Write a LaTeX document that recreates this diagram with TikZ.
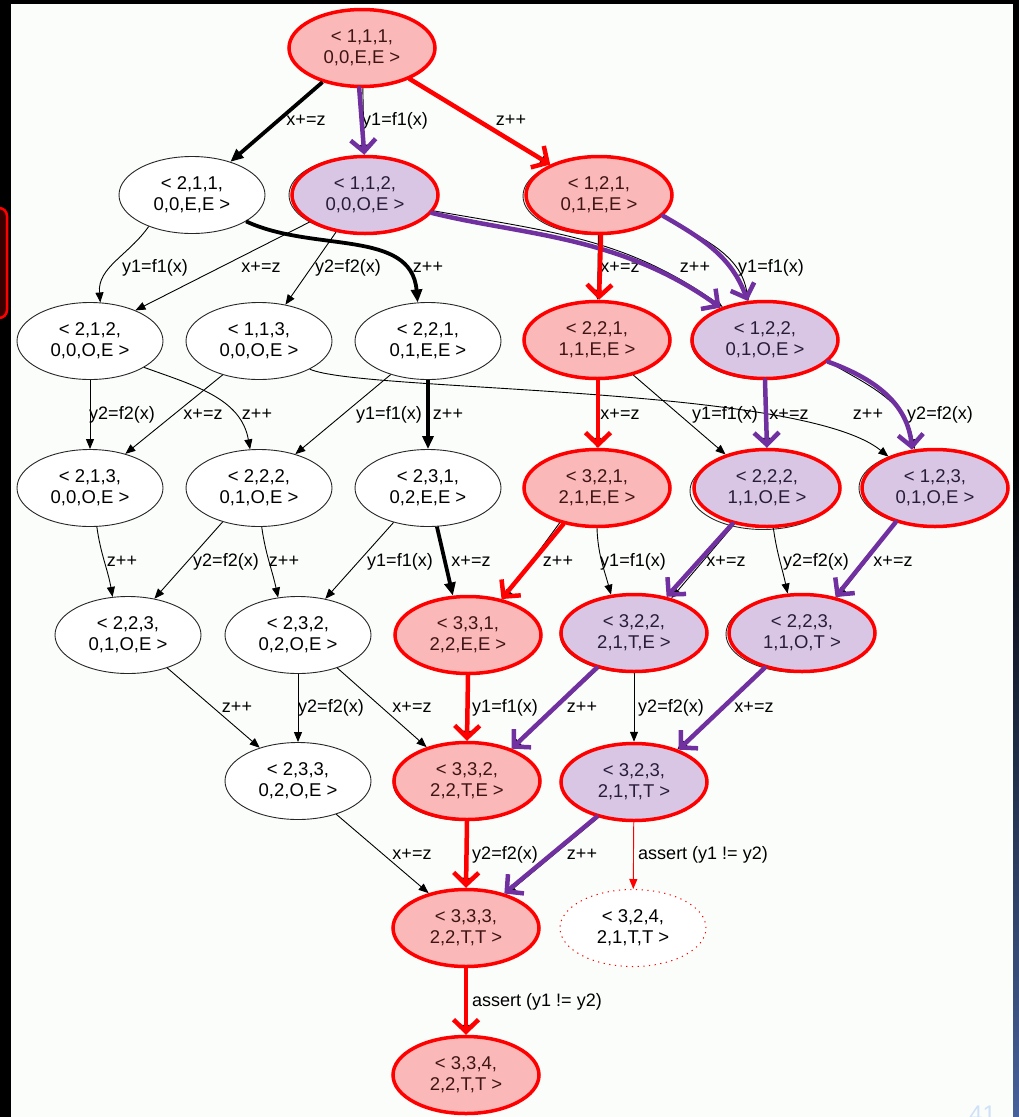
\documentclass[tikz,border=0pt]{standalone}
\usepackage{fontspec}
\setmainfont{Liberation Sans}
\usetikzlibrary{shapes.geometric,arrows.meta}
\definecolor{pinkf}{HTML}{FBB8B8}
\definecolor{purpf}{HTML}{D8C6E4}
\definecolor{purp}{HTML}{7030A0}
\definecolor{bg}{HTML}{FBFDFB}
\definecolor{pinktxt}{HTML}{3F1414}
\definecolor{purptxt}{HTML}{281C3A}
\definecolor{slideblue}{HTML}{46629A}
\definecolor{darkred}{HTML}{3A0000}
\definecolor{pagenum}{HTML}{CFE1F7}
\begin{document}
\begin{tikzpicture}[x=1pt,y=1pt,
  stnode/.style={ellipse,draw=black!85,line width=0.9pt,fill=white,minimum width=146pt,minimum height=77pt,inner sep=0pt,align=center,font=\fontsize{18.5}{21}\selectfont},
  hlr/.style={stnode,draw=red,line width=3.5pt,fill=pinkf,text=pinktxt},
  hlp/.style={stnode,draw=red,line width=3.5pt,fill=purpf,text=purptxt},
  shad/.style={preaction={draw=black!85,line width=0.9pt,fill=none,transform canvas={shift={(#1)}}}},
  dotnode/.style={stnode,draw=red,line width=1pt,dash pattern=on 1.2pt off 4.5pt},
  lbl/.style={font=\fontsize{18}{20}\selectfont,inner sep=0pt,text height=12.5pt,text depth=3.5pt},
  edg/.style={line width=0.9pt,-{Triangle[length=10pt,width=8pt]}},
  edgb/.style={line width=3.8pt,-{Triangle[length=13pt,width=11pt]}},
  ov/.style={line width=4.5pt,line cap=round,line join=round,-{Straight Barb[length=12pt,width=25pt]}},
  ovr/.style={ov,draw=red},
  ovp/.style={ov,draw=purp},
]
\useasboundingbox (0,0) rectangle (1019,-1117);
% slide background
\fill[black] (0,0) rectangle (1019,-1117);
\fill[bg] (11,-4) rectangle (1013,-1117);
\shade[top color=black,bottom color=slideblue] (1013,-450) rectangle (1019,-1117);
\draw[red,line width=2.5pt,fill=darkred,rounded corners=8pt] (-20,-208) rectangle (7,-318);
\begin{scope}
\clip (0,0) rectangle (1019,-1117);
\node[text=pagenum,font=\fontsize{24}{24}\selectfont,anchor=north west,inner sep=0pt] (pg) at (969,-1106) {41};
\end{scope}

% nodes
\node[hlr] (A111) at (362,-48) {< 1,1,1,\\0,0,E,E >};
\node[stnode] (N211) at (192,-195) {< 2,1,1,\\0,0,E,E >};
\node[hlp,shad={-3,0}] (N112) at (365,-195) {< 1,1,2,\\0,0,O,E >};
\node[hlr,shad={-3,-1}] (N121) at (599,-195) {< 1,2,1,\\0,1,E,E >};
\node[stnode] (N212) at (90,-341) {< 2,1,2,\\0,0,O,E >};
\node[stnode] (N113) at (259,-341) {< 1,1,3,\\0,0,O,E >};
\node[stnode] (N221a) at (428,-341) {< 2,2,1,\\0,1,E,E >};
\node[hlr] (N221b) at (597,-340) {< 2,2,1,\\1,1,E,E >};
\node[hlp,shad={-1,-1}] (N122) at (765,-340) {< 1,2,2,\\0,1,O,E >};
\node[stnode] (N213) at (90,-488) {< 2,1,3,\\0,0,O,E >};
\node[stnode] (N222a) at (259,-488) {< 2,2,2,\\0,1,O,E >};
\node[stnode] (N231) at (428,-488) {< 2,3,1,\\0,2,E,E >};
\node[hlr] (N321) at (597,-488) {< 3,2,1,\\2,1,E,E >};
\node[hlp,shad={-4,-3}] (N222b) at (767,-488) {< 2,2,2,\\1,1,O,E >};
\node[hlp,shad={-3,0}] (N123) at (935,-488) {< 1,2,3,\\0,1,O,E >};
\node[stnode] (N223a) at (128,-635) {< 2,2,3,\\0,1,O,E >};
\node[stnode] (N232) at (298,-635) {< 2,3,2,\\0,2,O,E >};
\node[hlr] (N331) at (468,-635) {< 3,3,1,\\2,2,E,E >};
\node[hlp,shad={-1,-1}] (N322) at (634,-633) {< 3,2,2,\\2,1,T,E >};
\node[hlp,shad={-3,-1}] (N223b) at (802,-633) {< 2,2,3,\\1,1,O,T >};
\node[stnode] (N233) at (298,-781) {< 2,3,3,\\0,2,O,E >};
\node[hlr,shad={-1,-1}] (N332) at (467,-781) {< 3,3,2,\\2,2,T,E >};
\node[hlp] (N323) at (634,-782) {< 3,2,3,\\2,1,T,T >};
\node[hlr] (N333) at (466,-928) {< 3,3,3,\\2,2,T,T >};
\node[dotnode] (N324) at (633,-928) {< 3,2,4,\\2,1,T,T >};
\node[hlr] (N334) at (466,-1075) {< 3,3,4,\\2,2,T,T >};

% black edges
\draw[edgb] (A111) -- (N211);
\draw[edg] (A111) -- (N112);
\draw[edg] (A111) -- (N121);
\draw[edg] (N211.-144) to[out=-125,in=95] (N212.75);
\draw[edgb] (N211.-26) to[out=-25,in=95] (N221a.105);
\draw[edg] (N112.206) -- (N212.34);
\draw[edg] (N112.232) -- (N113.54);
\draw[edg] (N112.-13) to[out=-10,in=145] (N122.142);
\draw[edg] (N121) -- (N221b);
\draw[edg] (N121.-18) to[out=-30,in=100] (N122.113);
\draw[edg] (N212) -- (N213);
\draw[edg] (N212.-26) to[out=-20,in=100] (N222a.103);
\draw[edg] (N113.223) -- (N213.44);
\draw[edg] (N113.-29) .. controls (360,-392) and (800,-385) .. (N123.146);
\draw[edg] (N221a.222) -- (N222a.43);
\draw[edgb] (N221a) -- (N231);
\draw[edg] (N221b) -- (N321);
\draw[edg] (N221b.-44) -- (N222b.141);
\draw[edg] (N122) -- (N222b);
\draw[edg] (N122.-19) to[out=-30,in=100] (N123.118);
\draw[edg] (N213.-80) to[out=-82,in=100] (N223a.112);
\draw[edg] (N222a.223) -- (N223a.54);
\draw[edg] (N222a.-86) to[out=-82,in=102] (N232.118);
\draw[edg] (N231.225) -- (N232.53);
\draw[edgb] (N231.-77) -- (N331.111);
\draw[edg] (N321.223) -- (N331.45);
\draw[edg] (N321.-90) to[out=-88,in=105] (N322.121);
\draw[edg] (N222b.228) -- (N322.43);
\draw[edg] (N222b.-81) to[out=-82,in=102] (N223b.110);
\draw[edg] (N123.222) -- (N223b.45);
\draw[edg] (N223a.-40) -- (N233.139);
\draw[edg] (N232) -- (N233);
\draw[edg] (N232.-40) -- (N332.140);
\draw[edg] (N331) -- (N332);
\draw[edg] (N322.225) -- (N332.36);
\draw[edg] (N322) -- (N323);
\draw[edg] (N223b.223) -- (N323.37);
\draw[edg] (N233.-41) -- (N333.137);
\draw[edg] (N332) -- (N333);
\draw[edg] (N323.225) -- (N333.40);
\draw[edg,red] (N323) -- (N324);
\draw[edg] (N333) -- (N334);

% labels
\node[lbl] (L01) at (306,-121) {x+=z};
\node[lbl] (L02) at (395,-121) {y1=f1(x)};
\node[lbl] (L03) at (511,-121) {z++};
\node[lbl] (L04) at (155,-268) {y1=f1(x)};
\node[lbl] (L05) at (261,-268) {x+=z};
\node[lbl] (L06) at (348,-268) {y2=f2(x)};
\node[lbl] (L07) at (428,-268) {z++};
\node[lbl] (L08) at (620,-268) {x+=z};
\node[lbl] (L09) at (695,-268) {z++};
\node[lbl] (L10) at (771,-268) {y1=f1(x)};
\node[lbl] (L11) at (122,-415) {y2=f2(x)};
\node[lbl] (L12) at (203,-415) {x+=z};
\node[lbl] (L13) at (257,-415) {z++};
\node[lbl] (L14) at (389,-415) {y1=f1(x)};
\node[lbl] (L15) at (448,-415) {z++};
\node[lbl] (L16) at (620,-415) {x+=z};
\node[lbl] (L17) at (725,-415) {y1=f1(x)};
\node[lbl] (L18) at (789,-415) {x+=z};
\node[lbl] (L19) at (868,-415) {z++};
\node[lbl] (L20) at (940,-415) {y2=f2(x)};
\node[lbl] (L21) at (122,-562) {z++};
\node[lbl] (L22) at (226,-562) {y2=f2(x)};
\node[lbl] (L23) at (284,-562) {z++};
\node[lbl] (L24) at (400,-562) {y1=f1(x)};
\node[lbl] (L25) at (471,-562) {x+=z};
\node[lbl] (L26) at (558,-562) {z++};
\node[lbl] (L27) at (633,-562) {y1=f1(x)};
\node[lbl] (L28) at (726,-562) {x+=z};
\node[lbl] (L29) at (816,-562) {y2=f2(x)};
\node[lbl] (L30) at (893,-562) {x+=z};
\node[lbl] (L31) at (237,-708) {z++};
\node[lbl] (L32) at (331,-708) {y2=f2(x)};
\node[lbl] (L33) at (412,-708) {x+=z};
\node[lbl] (L34) at (505,-708) {y1=f1(x)};
\node[lbl] (L35) at (582,-708) {z++};
\node[lbl] (L36) at (671,-708) {y2=f2(x)};
\node[lbl] (L37) at (754,-708) {x+=z};
\node[lbl] (L38) at (412,-855) {x+=z};
\node[lbl] (L39) at (505,-855) {y2=f2(x)};
\node[lbl] (L40) at (582,-855) {z++};
\node[lbl] (L41) at (703,-855) {assert (y1 != y2)};
\node[lbl] (L42) at (537,-1002) {assert (y1 != y2)};

% highlighted overlay arrows
\draw[ovr] (A111.-33) -- (N121.148);
\draw[ovp] (A111.-94) -- (N112.91);
\draw[ovp] (N112.-15) .. controls (520,-235) and (620,-235) .. (N122.144);
\draw[ovp] (N121.-18) to[out=-30,in=110] (N122.114);
\draw[ovr] ([xshift=2pt]N121.south) -- ([xshift=2pt]N221b.north);
\draw[ovr] ([xshift=1pt]N221b.south) -- ([xshift=1pt]N321.north);
\draw[ovp] (N122.south) -- (N222b.north);
\draw[ovp] (N122.-19) to[out=-20,in=95] (N123.121);
\draw[ovr] (N321.227) -- (N331.47);
\draw[ovp] (N222b.226) -- (N322.48);
\draw[ovp] (N123.221) -- (N223b.47);
\draw[ovr] (N331.south) -- (N332.north);
\draw[ovp] (N322.223) -- (N332.36);
\draw[ovp] (N223b.223) -- (N323.36);
\draw[ovr] (N332.south) -- (N333.north);
\draw[ovp] (N323.223) -- (N333.42);
\draw[ovr] (N333.south) -- (N334.north);
\end{tikzpicture}
\end{document}
